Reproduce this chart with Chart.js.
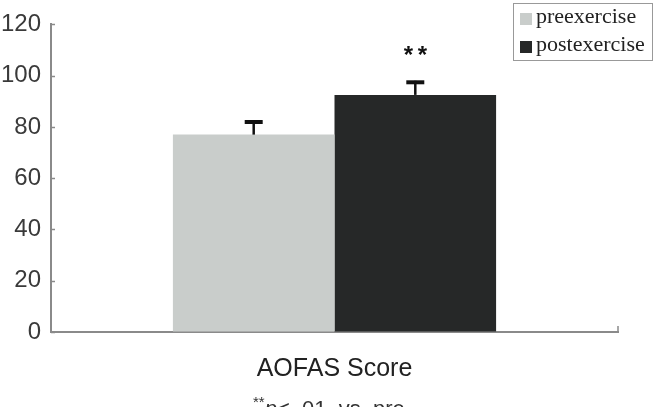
<!DOCTYPE html>
<html>
<head>
<meta charset="utf-8">
<script src="https://cdn.jsdelivr.net/npm/chart.js@4"></script>
<style>
  html, body { margin: 0; padding: 0; background: #fff; }
  #c { display: block; }
</style>
</head>
<body>
<canvas id="c" width="655" height="407"></canvas>
<script>
const categories = ['AOFAS Score'];
const seriesNames = ['preexercise', 'postexercise'];
const preValues = [77];
const postValues = [92.5];
const preErrors = [5.5];
const postErrors = [5.5];
const yTicks = [0, 20, 40, 60, 80, 100, 120];
const sigMarks = ['', '**'];

const lightGray = '#c9cdcb';
const darkGray = '#262828';
const axisColor = '#8a8a8a';

// error bars, star marks, inward ticks, legend box and the footnote
const extras = {
    id: 'extras',
    afterDatasetsDraw(chart) {
        const ctx = chart.ctx;
        const y = chart.scales.y;
        const errs = [preErrors, postErrors];
        ctx.save();
        chart.data.datasets.forEach((ds, di) => {
            chart.getDatasetMeta(di).data.forEach((bar, i) => {
                const top = y.getPixelForValue(ds.data[i] + errs[di][i]);
                ctx.strokeStyle = '#111';
                ctx.lineWidth = 2.5;
                ctx.beginPath();
                ctx.moveTo(bar.x, bar.y);
                ctx.lineTo(bar.x, top);
                ctx.stroke();
                ctx.lineWidth = 4;
                ctx.beginPath();
                ctx.moveTo(bar.x - 9, top + 1.5);
                ctx.lineTo(bar.x + 9, top + 1.5);
                ctx.stroke();
                if (sigMarks[di]) {
                    ctx.fillStyle = '#111';
                    ctx.font = 'bold 24px "Liberation Sans", Arial, sans-serif';
                    ctx.textAlign = 'center';
                    ctx.textBaseline = 'top';
                    ctx.fillText('*', bar.x - 7, top - 36);
                    ctx.fillText('*', bar.x + 7, top - 36);
                }
            });
        });
        ctx.restore();
    },
    afterDraw(chart) {
        const ctx = chart.ctx;
        const y = chart.scales.y;
        const area = chart.chartArea;
        ctx.save();
        ctx.strokeStyle = axisColor;
        ctx.lineWidth = 1.5;
        yTicks.forEach(v => {
            const py = Math.round(y.getPixelForValue(v)) + 0.5;
            ctx.beginPath();
            ctx.moveTo(area.left, py);
            ctx.lineTo(area.left + 4, py);
            ctx.stroke();
        });
        ctx.beginPath();
        ctx.moveTo(area.right, area.bottom);
        ctx.lineTo(area.right, area.bottom - 6);
        ctx.stroke();

        // legend
        ctx.strokeStyle = '#999';
        ctx.lineWidth = 1;
        ctx.strokeRect(513.5, 3.5, 139, 57);
        const cols = [lightGray, darkGray];
        ctx.font = '22px "Liberation Serif", "Times New Roman", serif';
        ctx.textAlign = 'left';
        ctx.textBaseline = 'middle';
        seriesNames.forEach((name, i) => {
            const cy = 18 + i * 28;
            ctx.fillStyle = cols[i];
            ctx.fillRect(520, cy - 5, 12, 12);
            ctx.fillStyle = '#222';
            ctx.fillText(name, 536, cy - 1);
        });

        // footnote
        ctx.fillStyle = '#333';
        ctx.textBaseline = 'alphabetic';
        let x = 253;
        ctx.font = '15px "Liberation Sans", Arial, sans-serif';
        ctx.fillText('**', x, 407);
        x += ctx.measureText('**').width;
        ctx.font = 'italic 22px "Liberation Sans", Arial, sans-serif';
        ctx.fillText('p', x, 416);
        x += ctx.measureText('p').width;
        ctx.font = '22px "Liberation Sans", Arial, sans-serif';
        ctx.fillText('< .01  vs. pre', x, 416);
        ctx.restore();
    }
};

new Chart(document.getElementById('c').getContext('2d'), {
    type: 'bar',
    data: {
        labels: categories,
        datasets: [
            {
                label: seriesNames[0],
                data: preValues,
                backgroundColor: lightGray,
                borderWidth: 0,
                categoryPercentage: 0.57,
                barPercentage: 1.0
            },
            {
                label: seriesNames[1],
                data: postValues,
                backgroundColor: darkGray,
                borderWidth: 0,
                categoryPercentage: 0.57,
                barPercentage: 1.0
            }
        ]
    },
    options: {
        responsive: false,
        devicePixelRatio: 1,
        animation: false,
        layout: { padding: { top: 21, right: 37, left: 0, bottom: 0 } },
        plugins: {
            legend: { display: false },
            tooltip: { enabled: false }
        },
        scales: {
            y: {
                min: 0,
                max: 120,
                afterFit: s => { s.width = 51; },
                afterBuildTicks: s => { s.ticks = yTicks.map(v => ({ value: v })); },
                grid: { drawOnChartArea: false, drawTicks: false },
                border: { color: axisColor, width: 2 },
                ticks: {
                    padding: 10,
                    color: '#3a3a3a',
                    font: { family: '"Liberation Sans", Arial, sans-serif', size: 24 }
                }
            },
            x: {
                afterFit: s => { s.height = 75; },
                grid: { display: false, drawTicks: false },
                border: { color: axisColor, width: 2 },
                ticks: {
                    padding: 22,
                    color: '#222',
                    font: { family: '"Liberation Sans", Arial, sans-serif', size: 25 }
                }
            }
        }
    },
    plugins: [extras]
});
</script>
</body>
</html>
